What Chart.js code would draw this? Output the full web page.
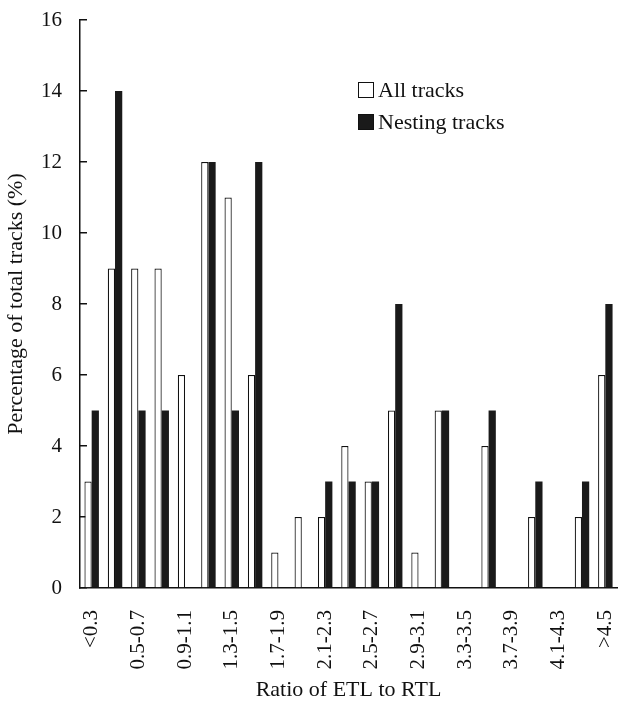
<!DOCTYPE html>
<html>
<head>
<meta charset="utf-8">
<script src="https://cdn.jsdelivr.net/npm/chart.js@4.4.1/dist/chart.umd.min.js"></script>
<style>
  html, body { margin: 0; padding: 0; background: #fff; }
  #wrap { position: relative; width: 619px; height: 708px; }
  #leyenda {
    position: absolute; left: 358px; top: 76px;
    font-family: "Liberation Serif", "DejaVu Serif", serif; font-size: 22px; color: #111;
  }
  .fila { height: 32px; line-height: 28px; white-space: nowrap; }
  .caja { display: inline-block; width: 14px; height: 14px; border: 1.5px solid #111;
          vertical-align: -1px; margin-right: 4px; }
</style>
</head>
<body>
<div id="wrap">
  <canvas id="miGrafica" width="619" height="708"></canvas>
  <div id="leyenda">
    <div class="fila"><span class="caja" style="background:#fff"></span>All tracks</div>
    <div class="fila"><span class="caja" style="background:#1a1a1a"></span>Nesting tracks</div>
  </div>
</div>
<script>
// intervalos del cociente ETL/RTL
const categorias = ["<0.3", "0.3-0.5", "0.5-0.7", "0.7-0.9", "0.9-1.1", "1.1-1.3", "1.3-1.5",
  "1.5-1.7", "1.7-1.9", "1.9-2.1", "2.1-2.3", "2.3-2.5", "2.5-2.7", "2.7-2.9", "2.9-3.1",
  "3.1-3.3", "3.3-3.5", "3.5-3.7", "3.7-3.9", "3.9-4.1", "4.1-4.3", "4.3-4.5", ">4.5"];

const todas = [3, 9, 9, 9, 6, 12, 11, 6, 1, 2, 2, 4, 3, 5, 1, 5, 0, 4, 0, 2, 0, 2, 6];
const anidacion = [5, 14, 5, 5, 0, 12, 5, 12, 0, 0, 3, 3, 3, 8, 0, 5, 0, 5, 0, 3, 0, 3, 8];

const yTicks = [0, 2, 4, 6, 8, 10, 12, 14, 16];

const fuente = "'Liberation Serif', 'DejaVu Serif', serif";
const negro = "#111";

const ctx = document.getElementById("miGrafica").getContext("2d");
new Chart(ctx, {
    type: "bar",
    data: {
        labels: categorias,
        datasets: [
            {
                label: "All tracks",
                data: todas,
                backgroundColor: "#fff",
                borderColor: negro,
                borderWidth: 1.2
            },
            {
                label: "Nesting tracks",
                data: anidacion,
                backgroundColor: "#1a1a1a",
                borderColor: "#1a1a1a",
                borderWidth: 0
            }
        ]
    },
    options: {
        responsive: false,
        animation: false,
        layout: { padding: { top: 20, right: 2, left: 0, bottom: 0 } },
        datasets: { bar: { categoryPercentage: 0.62, barPercentage: 1.0 } },
        plugins: {
            legend: { display: false },
            tooltip: { enabled: false }
        },
        scales: {
            x: {
                grid: { display: false },
                border: { display: true, color: negro, width: 1.5 },
                ticks: {
                    autoSkip: false,
                    minRotation: 90,
                    maxRotation: 90,
                    padding: 14,
                    color: negro,
                    font: { family: fuente, size: 21 },
                    callback: function(val, i) {
                        return i % 2 === 0 ? categorias[i] : "";
                    }
                },
                title: {
                    display: true,
                    text: "Ratio of ETL to RTL",
                    color: negro,
                    font: { family: fuente, size: 22 },
                    padding: { top: 0, bottom: 5 }
                },
                afterFit: function(scale) {
                    scale.height = 120;
                    scale.paddingLeft = 0;
                    scale.paddingRight = 0;
                }
            },
            y: {
                min: 0,
                max: 16,
                afterBuildTicks: function(scale) {
                    scale.ticks = yTicks.map(v => ({ value: v }));
                },
                grid: {
                    display: true,
                    drawOnChartArea: false,
                    drawTicks: true,
                    tickLength: -7,
                    color: negro,
                    lineWidth: 1.5
                },
                border: { display: true, color: negro, width: 1.5 },
                ticks: {
                    padding: 25,
                    color: negro,
                    font: { family: fuente, size: 21 }
                },
                title: {
                    display: true,
                    text: "Percentage of total tracks (%)",
                    color: negro,
                    font: { family: fuente, size: 22 },
                    padding: { top: 3, bottom: 0 }
                },
                afterFit: function(scale) {
                    scale.width = 80;
                    scale.paddingTop = 0;
                    scale.paddingBottom = 0;
                }
            }
        }
    }
});
</script>
</body>
</html>
